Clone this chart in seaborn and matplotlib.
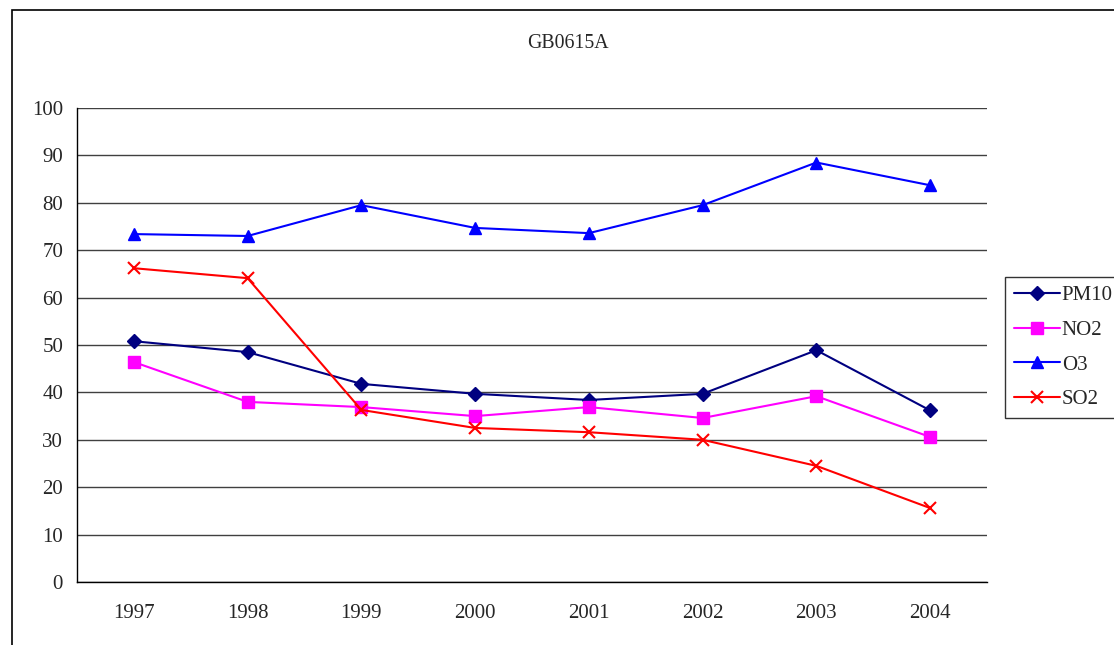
import numpy as np
import pandas as pd
import matplotlib.pyplot as plt
import matplotlib.patches as mpatches
import seaborn as sns

# values
years = ['1997', '1998', '1999', '2000', '2001', '2002', '2003', '2004']
pm10 = [50.8, 48.5, 41.8, 39.7, 38.4, 39.7, 48.9, 36.2]
no2 = [46.4, 38.0, 36.9, 35.0, 36.9, 34.6, 39.2, 30.6]
o3 = [73.4, 73.0, 79.5, 74.7, 73.6, 79.5, 88.5, 83.7]
so2 = [66.2, 64.1, 36.3, 32.5, 31.6, 30.0, 24.5, 15.6]

series = ['PM10', 'NO2', 'O3', 'SO2']
colors = {'PM10': '#000080', 'NO2': '#FF00FF', 'O3': '#0000FF', 'SO2': '#FF0000'}
markers = {'PM10': 'D', 'NO2': 's', 'O3': '^', 'SO2': 'x'}
msizes = {'PM10': 7, 'NO2': 9, 'O3': 9, 'SO2': 9}

pos = np.arange(len(years))
df = pd.DataFrame({'pos': np.tile(pos, 4),
                   'value': pm10 + no2 + o3 + so2,
                   'pollutant': np.repeat(series, len(years))})

sns.set_style('white')
plt.rcParams['font.family'] = ['Liberation Serif', 'DejaVu Serif']
fs = 15

fig = plt.figure(figsize=(11.14, 6.45), dpi=100)
ax = fig.add_axes([77 / 1114, 1 - 582 / 645, (987 - 77) / 1114, (582 - 108) / 645])

# outer chart frame
fig.patches.append(mpatches.Rectangle((12 / 1114, -0.05), 1.2, 1 - 10 / 645 + 0.05,
                                      transform=fig.transFigure, fill=False,
                                      edgecolor='black', linewidth=1.2, zorder=0))

for s in series:
    sns.lineplot(data=df[df['pollutant'] == s], x='pos', y='value', ax=ax,
                 color=colors[s], marker=markers[s], markersize=msizes[s],
                 markeredgecolor=colors[s], markeredgewidth=1.5 if s == 'SO2' else 1,
                 linewidth=1.5, label=s, legend=False)

ax.set_xlim(-0.5, len(years) - 0.5)
ax.set_ylim(0, 100)
ax.set_yticks(np.arange(0, 101, 10))
ax.set_xticks(np.arange(-0.5, len(years), 1))
ax.set_xticklabels([])
ax.set_xticks(pos, minor=True)
ax.set_xticklabels(years, minor=True)
ax.tick_params(axis='x', which='major', length=6, width=1, direction='out', color='black')
ax.tick_params(axis='x', which='minor', length=0, pad=16, labelsize=fs)
ax.tick_params(axis='y', length=6, width=1, direction='out', color='black', labelsize=fs, pad=4)
ax.yaxis.grid(True, color='#404040', linewidth=1)
ax.set_axisbelow(True)
for side in ['top', 'right']:
    ax.spines[side].set_visible(False)
for side in ['left', 'bottom']:
    ax.spines[side].set_color('black')
    ax.spines[side].set_linewidth(1)
ax.set_xlabel('')
ax.set_ylabel('')

fig.text(568 / 1114, 1 - 43 / 645, 'GB0615A', ha='center', va='center', fontsize=14.3)

handles, labels = ax.get_legend_handles_labels()
leg = fig.legend(handles, labels, loc='upper left',
                 bbox_to_anchor=(1005 / 1114, 1 - 277 / 645), frameon=True,
                 fancybox=False, edgecolor='black', fontsize=fs, handlelength=2.2,
                 labelspacing=0.72, borderpad=0.42, handletextpad=0.1, borderaxespad=0)
leg.get_frame().set_linewidth(1)

fig.savefig('out.png', dpi=100)
